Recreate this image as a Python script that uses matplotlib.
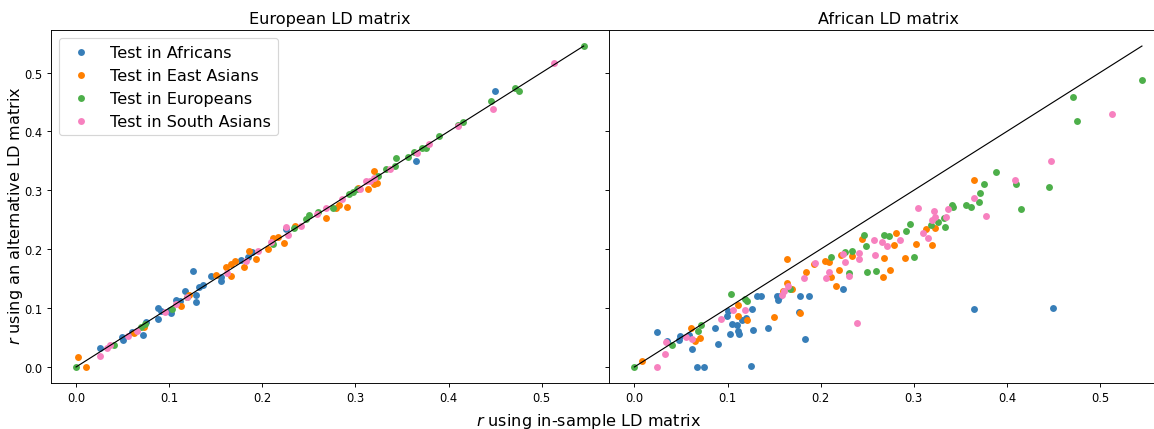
import matplotlib
matplotlib.use("Agg")
import matplotlib.pyplot as plt

populations = ["Test in Africans", "Test in East Asians", "Test in Europeans", "Test in South Asians"]
colors = ["#377eb8", "#ff7f00", "#4daf4a", "#f781bf"]

# ---- European LD matrix panel (x: in-sample r, y: alternative-LD r)
eur_afr_x = [0.0259, 0.0496, 0.0508, 0.0604, 0.0722, 0.0756, 0.0882, 0.0882, 0.0909, 0.1024, 0.1005,
             0.1073, 0.1119, 0.1166, 0.1257, 0.1292, 0.1284, 0.1322, 0.1368, 0.1452, 0.1555, 0.1559,
             0.1774, 0.1842, 0.1884, 0.2255, 0.3647, 0.4500]
eur_afr_y = [0.0322, 0.0503, 0.0452, 0.0588, 0.0548, 0.0768, 0.0994, 0.0814, 0.0954, 0.0915, 0.0966,
             0.1141, 0.1124, 0.1283, 0.1627, 0.1096, 0.1226, 0.1350, 0.1395, 0.1537, 0.1463, 0.1520,
             0.1819, 0.1864, 0.1960, 0.2339, 0.3503, 0.4684]
eur_eas_x = [0.0018, 0.0103, 0.0622, 0.0729, 0.1127, 0.1215, 0.1502, 0.1609, 0.1662, 0.1659, 0.1704,
             0.1799, 0.1853, 0.1934, 0.2057, 0.2114, 0.2168, 0.2229, 0.2351, 0.2680, 0.2791, 0.2821,
             0.2909, 0.3031, 0.3134, 0.3203, 0.3229, 0.3203]
eur_eas_y = [0.0164, 0.0000, 0.0576, 0.0684, 0.1028, 0.1226, 0.1559, 0.1706, 0.1746, 0.1537, 0.1791,
             0.1706, 0.1977, 0.1825, 0.2000, 0.2186, 0.2215, 0.2113, 0.2390, 0.2537, 0.2695, 0.2751,
             0.2717, 0.3040, 0.3017, 0.3328, 0.3119, 0.3113]
eur_eur_x = [0.0000, 0.0412, 0.0699, 0.0737, 0.1035, 0.1188, 0.2114, 0.2343, 0.2466, 0.2504, 0.2596,
             0.2764, 0.2936, 0.2974, 0.3012, 0.3241, 0.3329, 0.3433, 0.3421, 0.3566, 0.3624, 0.3712,
             0.3758, 0.3896, 0.4102, 0.4160, 0.4458, 0.4714, 0.4756, 0.5450]
eur_eur_y = [0.0000, 0.0373, 0.0684, 0.0729, 0.0983, 0.1181, 0.2085, 0.2367, 0.2508, 0.2582, 0.2633,
             0.2706, 0.2932, 0.2977, 0.3017, 0.3243, 0.3356, 0.3542, 0.3412, 0.3565, 0.3650, 0.3723,
             0.3723, 0.3921, 0.4102, 0.4164, 0.4520, 0.4735, 0.4695, 0.5450]
eur_sas_x = [0.0255, 0.0335, 0.0366, 0.0557, 0.0649, 0.0958, 0.1073, 0.1188, 0.1616, 0.1822, 0.1952,
             0.2094, 0.2255, 0.2274, 0.2419, 0.2591, 0.2687, 0.2859, 0.3050, 0.3108, 0.3157, 0.3203,
             0.3375, 0.3662, 0.3785, 0.4102, 0.4481, 0.5135]
eur_sas_y = [0.0192, 0.0322, 0.0373, 0.0520, 0.0610, 0.0927, 0.1068, 0.1181, 0.1588, 0.1802, 0.1972,
             0.2130, 0.2384, 0.2237, 0.2390, 0.2605, 0.2706, 0.2847, 0.3028, 0.3158, 0.3158, 0.3203,
             0.3356, 0.3627, 0.3780, 0.4090, 0.4384, 0.5164]

# ---- African LD matrix panel
afr_afr_x = [0.0243, 0.0351, 0.0474, 0.0493, 0.0586, 0.0616, 0.0669, 0.0743, 0.0870, 0.0896, 0.0990,
             0.1008, 0.1027, 0.1053, 0.1102, 0.1109, 0.1121, 0.1154, 0.1203, 0.1247, 0.1266, 0.1277,
             0.1315, 0.1360, 0.1434, 0.1531, 0.1546, 0.1569, 0.1763, 0.1778, 0.1834, 0.1871, 0.2237,
             0.3645, 0.4493]
afr_afr_y = [0.0593, 0.0435, 0.0463, 0.0531, 0.0548, 0.0299, 0.0000, 0.0000, 0.0661, 0.0395, 0.0864,
             0.0943, 0.0554, 0.0729, 0.0706, 0.0616, 0.0559, 0.0802, 0.0830, 0.0011, 0.0983, 0.0627,
             0.1209, 0.1209, 0.0655, 0.1203, 0.1141, 0.1197, 0.0926, 0.1197, 0.0474, 0.1197, 0.1327,
             0.0977, 0.1000]
afr_eas_x = [0.0086, 0.0613, 0.0654, 0.0710, 0.1117, 0.1109, 0.1206, 0.1494, 0.1640, 0.1643, 0.1595,
             0.1688, 0.1782, 0.1838, 0.1924, 0.2043, 0.2092, 0.2107, 0.2163, 0.2200, 0.2222, 0.2334,
             0.2446, 0.2671, 0.2685, 0.2745, 0.2783, 0.2809, 0.2902, 0.3022, 0.3134, 0.3201, 0.3227,
             0.3642]
afr_eas_y = [0.0107, 0.0661, 0.0435, 0.0491, 0.1051, 0.0864, 0.0791, 0.0847, 0.1429, 0.1836, 0.1288,
             0.1316, 0.0921, 0.1621, 0.1740, 0.1796, 0.1779, 0.1525, 0.1378, 0.1644, 0.1903, 0.1886,
             0.2169, 0.1536, 0.1847, 0.1644, 0.2073, 0.2276, 0.1853, 0.2084, 0.2344, 0.2078, 0.2361,
             0.3180]
afr_eur_x = [0.0000, 0.0400, 0.0680, 0.0717, 0.1035, 0.1184, 0.1214, 0.1670, 0.2107, 0.2260, 0.2304,
             0.2342, 0.2465, 0.2491, 0.2502, 0.2592, 0.2678, 0.2734, 0.2913, 0.2958, 0.3007, 0.3190,
             0.3257, 0.3320, 0.3339, 0.3414, 0.3425, 0.3563, 0.3612, 0.3698, 0.3709, 0.3754, 0.3884,
             0.4097, 0.4153, 0.4452, 0.4714, 0.4751, 0.5449]
afr_eur_y = [0.0000, 0.0378, 0.0604, 0.0706, 0.1243, 0.1147, 0.1118, 0.1316, 0.1875, 0.1960, 0.1598,
             0.1977, 0.2237, 0.2050, 0.1621, 0.1632, 0.2242, 0.2220, 0.2304, 0.2434, 0.1864, 0.2417,
             0.2468, 0.2525, 0.2383, 0.2756, 0.2711, 0.2756, 0.2711, 0.2807, 0.2960, 0.3112, 0.3304,
             0.3106, 0.2677, 0.3050, 0.4586, 0.4180, 0.4874]
afr_sas_x = [0.0243, 0.0325, 0.0344, 0.0557, 0.0624, 0.0934, 0.1064, 0.1191, 0.1584, 0.1602, 0.1651,
             0.1819, 0.1938, 0.2062, 0.2095, 0.2241, 0.2267, 0.2301, 0.2394, 0.2417, 0.2417, 0.2585,
             0.2573, 0.2659, 0.2715, 0.2857, 0.3044, 0.3100, 0.3156, 0.3201, 0.3212, 0.3231, 0.3343,
             0.3369, 0.3649, 0.3780, 0.4090, 0.4478, 0.5132]
afr_sas_y = [0.0000, 0.0226, 0.0424, 0.0508, 0.0480, 0.0819, 0.0971, 0.0971, 0.1214, 0.1282, 0.1372,
             0.1508, 0.1768, 0.1508, 0.1621, 0.1920, 0.1790, 0.1542, 0.0740, 0.1836, 0.1937, 0.1903,
             0.2152, 0.2118, 0.2050, 0.2163, 0.2700, 0.2276, 0.2197, 0.2496, 0.2649, 0.2553, 0.2542,
             0.2683, 0.2875, 0.2559, 0.3180, 0.3491, 0.4293]

diag = [0.0, 0.545]

panels = [
    ("European LD matrix", [(eur_afr_x, eur_afr_y), (eur_eas_x, eur_eas_y), (eur_eur_x, eur_eur_y), (eur_sas_x, eur_sas_y)]),
    ("African LD matrix", [(afr_afr_x, afr_afr_y), (afr_eas_x, afr_eas_y), (afr_eur_x, afr_eur_y), (afr_sas_x, afr_sas_y)]),
]

DPI = 83
fig = plt.figure(figsize=(1154 / DPI, 430 / DPI), dpi=DPI)
W, H = 1154.0, 430.0
left_px, right_split, top_px, bot_px = 50.7, 609.0, 31.0, 384.0
ax_w = right_split - left_px
ax1 = fig.add_axes([left_px / W, 1 - bot_px / H, ax_w / W, (bot_px - top_px) / H])
ax2 = fig.add_axes([right_split / W, 1 - bot_px / H, ax_w / W, (bot_px - top_px) / H], sharey=ax1)

for ax, (title, series) in zip([ax1, ax2], panels):
    for (xs, ys), lab, c in zip(series, populations, colors):
        ax.scatter(xs, ys, color=c, label=lab, s=36, linewidths=0)
    ax.plot(diag, diag, color="black", lw=1)
    ax.set_title(title, fontsize=14)
    ax.set_xticks([0.0, 0.1, 0.2, 0.3, 0.4, 0.5])
    ax.set_yticks([0.0, 0.1, 0.2, 0.3, 0.4, 0.5])

ax2.tick_params(labelleft=False)
ax1.set_ylabel("$r$ using an alternative LD matrix", fontsize=14)
ax1.yaxis.set_label_coords(-0.046, 0.476)
ax1.legend(loc="upper left", fontsize=14)
fig.text(589 / W, 1 - 422 / H, "$r$ using in-sample LD matrix", ha="center", va="center", fontsize=14)

fig.savefig("out.png", dpi=DPI)
